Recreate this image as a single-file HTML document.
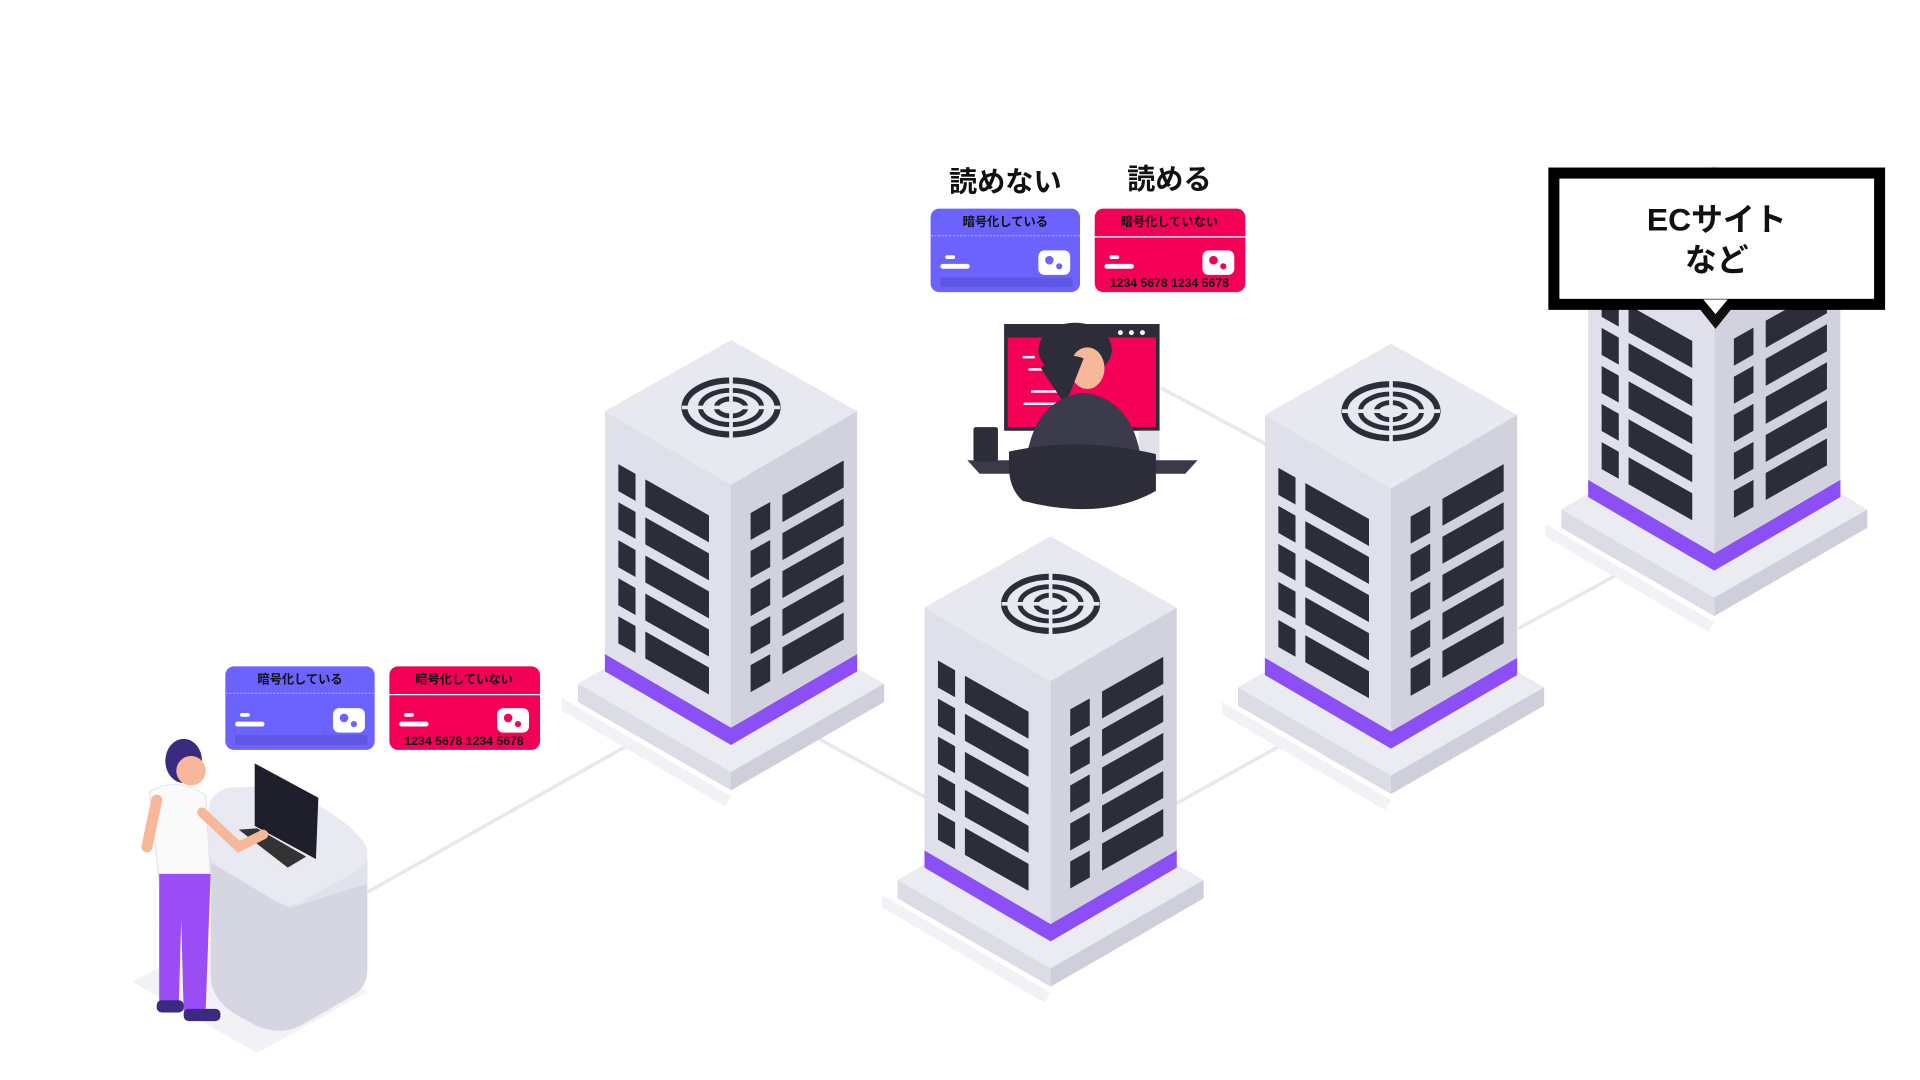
<!DOCTYPE html>
<html><head><meta charset="utf-8"><style>
html,body{margin:0;padding:0;background:#fff;width:1920px;height:1080px;overflow:hidden}
svg{display:block}
text{font-family:"Liberation Sans","Noto Sans CJK JP",sans-serif}
</style></head><body>
<svg width="1920" height="1080" viewBox="0 0 1568 880" preserveAspectRatio="none" xmlns="http://www.w3.org/2000/svg">
<defs>
<g id="srv">
  <polygon points="-138,292 0,372 -5,380 -138,302" fill="#f1f1f6"/>
  <polygon points="-125,280 0,352 125,280 0,208" fill="#ebebf2"/>
  <polygon points="-125,280 0,352 0,367 -125,295" fill="#dcdce6"/>
  <polygon points="125,280 0,352 0,367 125,295" fill="#cfcfdc"/>
  <polygon points="0,0 103,58 0,118 -103,58" fill="#e8e8f1"/>
  <polygon points="-103,58 0,118 0,330 -103,270" fill="#e0e0ea"/>
  <polygon points="0,118 103,58 103,270 0,330" fill="#d2d2de"/>
  <polygon points="-103,256 0,316 103,256 103,270 0,330 -103,270" fill="#8c4ef5"/>
  <g fill="none" stroke="#2d2d3a">
    <ellipse cx="0" cy="55" rx="38" ry="22" stroke-width="5"/>
    <ellipse cx="0" cy="55" rx="25" ry="14" stroke-width="4"/>
    <ellipse cx="0" cy="55" rx="12" ry="7" stroke-width="4"/>
  </g>
  <g stroke="#e8e8f1" stroke-width="3">
    <line x1="-40" y1="55" x2="40" y2="55"/>
    <line x1="0" y1="30" x2="0" y2="80"/>
  </g>
  <g fill="#2d2d3a">
    <polygon points="-92,101.2 -78,109.1 -78,131.1 -92,123.2"/>
    <polygon points="-92,132.2 -78,140.1 -78,162.1 -92,154.2"/>
    <polygon points="-92,163.2 -78,171.1 -78,193.1 -92,185.2"/>
    <polygon points="-92,194.2 -78,202.1 -78,224.1 -92,216.2"/>
    <polygon points="-92,225.2 -78,233.1 -78,255.1 -92,247.2"/>
    <polygon points="-70,113.6 -18,142.9 -18,164.9 -70,135.6"/>
    <polygon points="-70,144.6 -18,173.9 -18,195.9 -70,166.6"/>
    <polygon points="-70,175.6 -18,204.9 -18,226.9 -70,197.6"/>
    <polygon points="-70,206.6 -18,235.9 -18,257.9 -70,228.6"/>
    <polygon points="-70,237.6 -18,266.9 -18,288.9 -70,259.6"/>
    <polygon points="16,141 32,132 32,154 16,163"/>
    <polygon points="16,172 32,163 32,185 16,194"/>
    <polygon points="16,203 32,194 32,216 16,225"/>
    <polygon points="16,234 32,225 32,247 16,256"/>
    <polygon points="16,265 32,256 32,278 16,287"/>
    <polygon points="42,126.4 92,98.2 92,120.2 42,148.4"/>
    <polygon points="42,157.4 92,129.2 92,151.2 42,179.4"/>
    <polygon points="42,188.4 92,160.2 92,182.2 42,210.4"/>
    <polygon points="42,219.4 92,191.2 92,213.2 42,241.4"/>
    <polygon points="42,250.4 92,222.2 92,244.2 42,272.4"/>
  </g>
</g>
<g id="bcard">
  <rect x="0" y="0" width="122" height="68" rx="7" fill="#6c63ff"/>
  <line x1="0" y1="22" x2="122" y2="22" stroke="#9b96ff" stroke-width="1" stroke-dasharray="2,1"/>
  <rect x="12" y="38" width="8" height="3" rx="1.5" fill="#fff"/>
  <rect x="8" y="45" width="24" height="4" rx="2" fill="#fff"/>
  <rect x="88" y="34" width="26" height="20" rx="5" fill="#fff"/>
  <circle cx="97" cy="42" r="3.5" fill="#6c63ff"/><circle cx="105" cy="47" r="2.5" fill="#6c63ff"/>
  <rect x="8" y="56" width="108" height="8" fill="#5a53d8" opacity="0.7"/>
</g>
<g id="rcard">
  <rect x="0" y="0" width="123" height="68" rx="7" fill="#f50057"/>
  <line x1="0" y1="23" x2="123" y2="23" stroke="#fff" stroke-width="1"/>
  <rect x="12" y="38" width="8" height="3" rx="1.5" fill="#fff"/>
  <rect x="8" y="45" width="24" height="4" rx="2" fill="#fff"/>
  <rect x="88" y="34" width="26" height="20" rx="5" fill="#fff"/>
  <circle cx="97" cy="42" r="3.5" fill="#f50057"/><circle cx="105" cy="47" r="2.5" fill="#f50057"/>
</g>
</defs>

<g stroke="#e8e8ef" stroke-width="3">
  <line x1="300" y1="727" x2="515" y2="606"/>
  <line x1="665" y1="600" x2="760" y2="652"/>
  <line x1="960" y1="655" x2="1052" y2="604"/>
  <line x1="948" y1="316" x2="1034" y2="362"/>
  <line x1="1240" y1="512" x2="1325" y2="466"/>
</g>

<use href="#srv" x="597" y="277"/>
<use href="#srv" x="1136" y="280"/>
<use href="#srv" x="1400" y="135"/>
<use href="#srv" x="858" y="437"/>

<polygon points="108,800 210,858 300,808 200,752" fill="#f1f1f6"/>
<path d="M172,680 L172,795 Q172,815 195,828 L210,836 Q230,845 250,833 L290,810 Q300,803 300,790 L300,700 Z" fill="#d6d6e2"/>
<polygon points="170,680 236,718 300,700 300,720 236,740 170,702" fill="#e2e2ec"/>
<path d="M170,662 Q170,648 185,642 L230,640 Q300,675 300,695 Q300,705 290,711 L245,735 Q236,740 226,735 L180,707 Q170,700 170,690 Z" fill="#e9e9f1"/>
<polygon points="208,622 260,650 258,700 208,673" fill="#1f1f2b"/>
<polygon points="188,672 208,673 258,700 235,712" fill="#e8e8ef"/>
<polygon points="195,676 210,675 250,698 235,707" fill="#333"/>
<ellipse cx="150" cy="620" rx="15" ry="18" fill="#3a2a80"/>
<circle cx="156" cy="628" r="12" fill="#f7b89a"/>
<path d="M122,645 Q145,632 168,648 L172,715 L130,718 Z" fill="#fafafa" stroke="#e5e5ea"/>
<path d="M165,662 L195,690 L215,680" stroke="#f7b89a" stroke-width="8" fill="none" stroke-linecap="round"/>
<path d="M128,652 L120,690" stroke="#f7b89a" stroke-width="9" stroke-linecap="round"/>
<polygon points="130,712 172,712 168,822 150,824 148,750 146,818 130,818" fill="#9b4df5"/>
<rect x="128" y="815" width="22" height="10" rx="4" fill="#3a2a80"/>
<rect x="150" y="822" width="30" height="10" rx="4" fill="#3a2a80"/>

<use href="#bcard" x="184" y="543"/>
<text x="245" y="557" font-size="10" font-weight="bold" text-anchor="middle" fill="#111">暗号化している</text>
<use href="#rcard" x="318" y="543"/>
<text x="379" y="557" font-size="10" font-weight="bold" text-anchor="middle" fill="#111">暗号化していない</text>
<text x="379" y="607" font-size="10" font-weight="bold" text-anchor="middle" fill="#111">1234 5678 1234 5678</text>

<text x="821" y="156" font-size="23" font-weight="bold" text-anchor="middle" fill="#111">読めない</text>
<text x="955" y="154" font-size="23" font-weight="bold" text-anchor="middle" fill="#111">読める</text>
<use href="#bcard" x="760" y="170"/>
<text x="821" y="184" font-size="10" font-weight="bold" text-anchor="middle" fill="#111">暗号化している</text>
<use href="#rcard" x="894" y="170"/>
<text x="955" y="184" font-size="10" font-weight="bold" text-anchor="middle" fill="#111">暗号化していない</text>
<text x="955" y="234" font-size="10" font-weight="bold" text-anchor="middle" fill="#111">1234 5678 1234 5678</text>

<rect x="820" y="264" width="127" height="87" fill="#2d2d3a"/>
<rect x="823" y="275" width="121" height="73" fill="#f50057"/>
<g fill="#fff"><rect x="835" y="290" width="10" height="2"/><rect x="840" y="300" width="14" height="2"/><rect x="842" y="318" width="30" height="2"/><rect x="836" y="328" width="40" height="2"/><circle cx="915" cy="271" r="2"/><circle cx="924" cy="271" r="2"/><circle cx="933" cy="271" r="2"/></g>
<rect x="930" y="351" width="17" height="25" fill="#e0e0e8"/>
<polygon points="790,375 978,375 968,386 800,386" fill="#3a3a48"/>
<rect x="795" y="348" width="20" height="28" rx="2" fill="#2d2d3a"/>
<ellipse cx="878" cy="285" rx="30" ry="22" fill="#2d2d3a"/>
<ellipse cx="888" cy="300" rx="14" ry="17" fill="#f7b89a"/>
<path d="M850,300 Q865,285 885,292 L870,330 Z" fill="#2d2d3a"/>
<path d="M838,375 Q845,325 885,320 Q925,325 932,375 Z" fill="#3b3b4c"/>
<path d="M824,368 Q880,355 944,370 L944,400 Q900,425 835,408 Q824,398 824,380 Z" fill="#2d2d3a"/>

<polygon points="1385,248 1417,248 1401,268" fill="#111"/>
<rect x="1269" y="141" width="266" height="107" fill="#fff" stroke="#000" stroke-width="9"/>
<polygon points="1391,244 1411,244 1401,256" fill="#fff"/>
<text x="1402" y="188" font-size="26" font-weight="bold" text-anchor="middle" fill="#111">ECサイト</text>
<text x="1402" y="221" font-size="26" font-weight="bold" text-anchor="middle" fill="#111">など</text>
</svg>
</body></html>
